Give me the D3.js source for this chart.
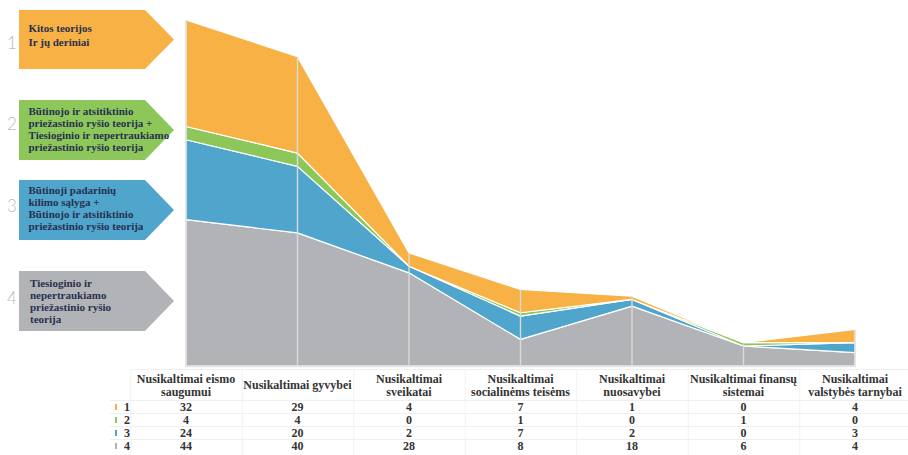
<!DOCTYPE html>
<html>
<head>
<meta charset="utf-8">
<script src="https://cdn.jsdelivr.net/npm/d3@7"></script>
<style>
  html, body { margin: 0; padding: 0; background: #fff; }
  svg { display: block; }
</style>
</head>
<body>
<svg id="chart" width="908" height="455"></svg>
<script>
// Crime categories (x axis / table columns)
const categories = [
  ["Nusikaltimai eismo", "saugumui"],
  ["Nusikaltimai gyvybei"],
  ["Nusikaltimai", "sveikatai"],
  ["Nusikaltimai", "socialinėms teisėms"],
  ["Nusikaltimai", "nuosavybei"],
  ["Nusikaltimai finansų", "sistemai"],
  ["Nusikaltimai", "valstybės tarnybai"]
];

// Series values, one array per theory group
const series1 = [32, 29, 4, 7, 1, 0, 4];   // Kitos teorijos ir jų deriniai
const series2 = [4, 4, 0, 1, 0, 1, 0];     // Būtinojo ir atsitiktinio + Tiesioginio
const series3 = [24, 20, 2, 7, 2, 0, 3];   // Būtinoji padarinių kilimo sąlyga + Būtinojo
const series4 = [44, 40, 28, 8, 18, 6, 4]; // Tiesioginio ir nepertraukiamo

const seriesKeys = ["1", "2", "3", "4"];
const seriesColors = { "1": "#F7B144", "2": "#8DC75A", "3": "#4FA5CB", "4": "#B2B3B6" };

const legendLabels = {
  "1": ["Kitos teorijos", "Ir jų deriniai"],
  "2": ["Būtinojo ir atsitiktinio", "priežastinio ryšio teorija +", "Tiesioginio ir nepertraukiamo", "priežastinio ryšio teorija"],
  "3": ["Būtinoji padarinių", "kilimo sąlyga +", "Būtinojo ir atsitiktinio", "priežastinio ryšio teorija"],
  "4": ["Tiesioginio ir", "nepertraukiamo", "priežastinio ryšio", "teorija"]
};

const valuesByKey = { "1": series1, "2": series2, "3": series3, "4": series4 };

const rows = categories.map((c, i) => ({
  cat: c.join(" "),
  "1": series1[i], "2": series2[i], "3": series3[i], "4": series4[i]
}));

const svg = d3.select("#chart");

const x = d3.scalePoint()
  .domain(rows.map(d => d.cat))
  .range([186, 855]);
const step = x.step();

const totals = rows.map(d => seriesKeys.reduce((s, k) => s + d[k], 0));
const y = d3.scaleLinear()
  .domain([0, d3.max(totals)])
  .range([366, 20]);

// Stack from the bottom: 4, 3, 2, 1
const stack = d3.stack().keys(["4", "3", "2", "1"]);
const layers = stack(rows);

const area = d3.area()
  .x(d => x(d.data.cat))
  .y0(d => y(d[0]))
  .y1(d => y(d[1]));

svg.append("g").selectAll("path")
  .data(layers)
  .join("path")
  .attr("d", area)
  .attr("fill", d => seriesColors[d.key])
  .attr("stroke", "#fff")
  .attr("stroke-width", 1.2)
  .attr("stroke-linejoin", "round");

// Drop lines from each category top to the baseline
svg.append("g").selectAll("line")
  .data(rows)
  .join("line")
  .attr("x1", d => x(d.cat))
  .attr("x2", d => x(d.cat))
  .attr("y1", (d, i) => y(totals[i]))
  .attr("y2", y(0))
  .attr("stroke", "#dadada")
  .attr("stroke-width", 1.4);

// Baseline
svg.append("line")
  .attr("x1", x(rows[0].cat) - 1)
  .attr("x2", x(rows[rows.length - 1].cat) + 1)
  .attr("y1", y(0) + 0.5)
  .attr("y2", y(0) + 0.5)
  .attr("stroke", "#e6e6e6")
  .attr("stroke-width", 1.5);

// Arrow-shaped legend boxes
const legendBoxes = [
  { key: "1", y0: 10, y1: 69, textY: 32, num: 42 },
  { key: "2", y0: 100, y1: 160, textY: 115, num: 123 },
  { key: "3", y0: 180, y1: 240, textY: 194, num: 205 },
  { key: "4", y0: 271, y1: 331, textY: 287, num: 297 }
];
const bx0 = 19, bx1 = 145, btip = 174;

const lg = svg.append("g");
legendBoxes.forEach(b => {
  const ym = (b.y0 + b.y1) / 2;
  lg.append("polygon")
    .attr("points", [[bx0, b.y0], [bx1, b.y0], [btip, ym], [bx1, b.y1], [bx0, b.y1]].map(p => p.join(",")).join(" "))
    .attr("fill", seriesColors[b.key]);
  const tx = b.key === "4" ? 30 : 28.5;
  const t = lg.append("text")
    .attr("x", tx)
    .attr("y", b.textY)
    .attr("font-family", "'Liberation Serif', 'Times New Roman', serif")
    .attr("font-weight", "bold")
    .attr("font-size", 11)
    .attr("fill", "#283050");
  legendLabels[b.key].forEach((line, i) => {
    t.append("tspan").attr("x", tx).attr("dy", i === 0 ? 0 : (b.key === "1" ? 13.5 : 12)).text(line);
  });
  lg.append("text")
    .attr("x", 12)
    .attr("y", b.num)
    .attr("text-anchor", "middle")
    .attr("dominant-baseline", "central")
    .attr("font-family", "Lato, 'Open Sans', sans-serif")
    .attr("font-weight", 300)
    .attr("font-size", 17)
    .attr("fill", "#bdbdbd")
    .text(b.key);
});

// Data table below the chart
const tg = svg.append("g");
const tableTop = 369, headerBottom = 400, rowH = 13;
const tableLeft = x(rows[0].cat) - step / 2;
const tableRight = x(rows[rows.length - 1].cat) + step / 2;
const serif = "'Liberation Serif', 'Times New Roman', serif";

// grid lines
const hLines = [tableTop, headerBottom, headerBottom + rowH, headerBottom + 2 * rowH, headerBottom + 3 * rowH];
tg.selectAll("line.h")
  .data(hLines)
  .join("line")
  .attr("class", "h")
  .attr("x1", (d, i) => i === 0 ? tableLeft : 110)
  .attr("x2", tableRight)
  .attr("y1", d => d + 0.5)
  .attr("y2", d => d + 0.5)
  .attr("stroke", "#efefef");
tg.selectAll("line.v")
  .data(rows)
  .join("line")
  .attr("class", "v")
  .attr("x1", d => x(d.cat) - step / 2 + 0.5)
  .attr("x2", d => x(d.cat) - step / 2 + 0.5)
  .attr("y1", tableTop)
  .attr("y2", 455)
  .attr("stroke", "#f2f2f2");

// headers
categories.forEach((c, i) => {
  const cx = x(rows[i].cat);
  const t = tg.append("text")
    .attr("x", cx)
    .attr("y", c.length === 1 ? 389 : 383)
    .attr("text-anchor", "middle")
    .attr("font-family", serif)
    .attr("font-weight", "bold")
    .attr("font-size", 12)
    .attr("fill", "#333");
  c.forEach((line, j) => {
    t.append("tspan").attr("x", cx).attr("dy", j === 0 ? 0 : 13).text(line);
  });
});

// row keys and values
seriesKeys.forEach((k, r) => {
  const base = headerBottom + 11 + r * rowH;
  tg.append("rect")
    .attr("x", 115)
    .attr("y", base - 7)
    .attr("width", 2)
    .attr("height", 6)
    .attr("fill", seriesColors[k]);
  tg.append("text")
    .attr("x", 124)
    .attr("y", base)
    .attr("font-family", serif)
    .attr("font-weight", "bold")
    .attr("font-size", 12)
    .attr("fill", "#333")
    .text(k);
  tg.selectAll(null)
    .data(valuesByKey[k])
    .join("text")
    .attr("x", (d, i) => x(rows[i].cat))
    .attr("y", base)
    .attr("text-anchor", "middle")
    .attr("font-family", serif)
    .attr("font-weight", "bold")
    .attr("font-size", 12)
    .attr("fill", "#333")
    .text(d => d);
});
</script>
</body>
</html>
